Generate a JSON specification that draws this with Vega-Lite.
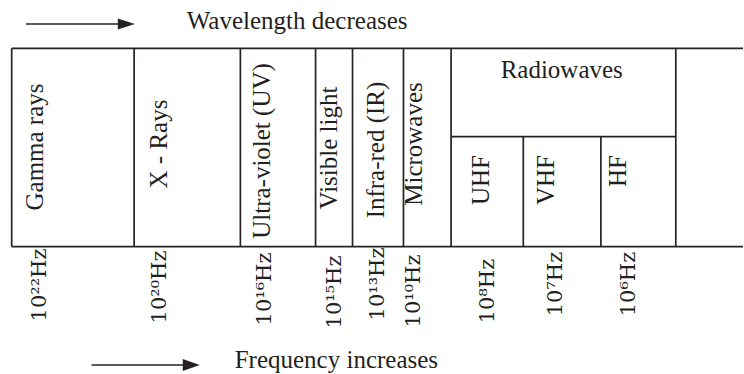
{
  "$schema": "https://vega.github.io/schema/vega-lite/v6.json",
  "autosize": {"type": "fit", "contains": "padding"},
  "width": 744,
  "height": 374,
  "padding": 0,
  "background": "white",
  "config": {"view": {"stroke": null}},
  "datasets": {
    "lines": [
      {"x": 11.7, "x2": 744, "y": 48.3, "y2": 48.3},
      {"x": 11.7, "x2": 744, "y": 246.7, "y2": 246.7},
      {"x": 451.7, "x2": 676.7, "y": 136.7, "y2": 136.7},
      {"x": 11.7, "x2": 11.7, "y": 48.3, "y2": 246.7},
      {"x": 134.3, "x2": 134.3, "y": 48.3, "y2": 246.7},
      {"x": 240.7, "x2": 240.7, "y": 48.3, "y2": 246.7},
      {"x": 316, "x2": 316, "y": 48.3, "y2": 246.7},
      {"x": 353, "x2": 353, "y": 48.3, "y2": 246.7},
      {"x": 404, "x2": 404, "y": 48.3, "y2": 246.7},
      {"x": 451.7, "x2": 451.7, "y": 48.3, "y2": 246.7},
      {"x": 524, "x2": 524, "y": 136.7, "y2": 246.7},
      {"x": 601.7, "x2": 601.7, "y": 136.7, "y2": 246.7},
      {"x": 676.7, "x2": 676.7, "y": 48.3, "y2": 246.7},
      {"x": 26, "x2": 120, "y": 24, "y2": 24},
      {"x": 91.7, "x2": 185, "y": 365, "y2": 365}
    ],
    "heads": [
      {"arrow": "top", "x": 118, "y": 18.5, "y2": 29.5},
      {"arrow": "top", "x": 135, "y": 24, "y2": 24},
      {"arrow": "bottom", "x": 183, "y": 359, "y2": 371},
      {"arrow": "bottom", "x": 200, "y": 365, "y2": 365}
    ],
    "labels": [
      {"group": "cell", "label": "Gamma rays", "x": 35, "y": 147},
      {"group": "cell", "label": "X - Rays", "x": 159, "y": 144},
      {"group": "cell", "label": "Ultra-violet (UV)", "x": 262, "y": 151},
      {"group": "cell", "label": "Visible light", "x": 329, "y": 148},
      {"group": "cell", "label": "Infra-red (IR)", "x": 377, "y": 150},
      {"group": "cell", "label": "Microwaves", "x": 415, "y": 144},
      {"group": "band", "label": "UHF", "x": 482, "y": 155},
      {"group": "band", "label": "VHF", "x": 547, "y": 155},
      {"group": "band", "label": "HF", "x": 619, "y": 155},
      {"group": "freq", "label": "10²²Hz", "x": 40, "y": 285},
      {"group": "freq", "label": "10²⁰Hz", "x": 160, "y": 287},
      {"group": "freq", "label": "10¹⁶Hz", "x": 265, "y": 289},
      {"group": "freq", "label": "10¹⁵Hz", "x": 335, "y": 292},
      {"group": "freq", "label": "10¹³Hz", "x": 379, "y": 284},
      {"group": "freq", "label": "10¹⁰Hz", "x": 415, "y": 291},
      {"group": "freq", "label": "10⁸Hz", "x": 489, "y": 291},
      {"group": "freq", "label": "10⁷Hz", "x": 557, "y": 284},
      {"group": "freq", "label": "10⁶Hz", "x": 630, "y": 284},
      {"group": "head", "label": "Radiowaves", "x": 562.5, "y": 70},
      {"group": "title", "label": "Wavelength decreases", "x": 187, "y": 21},
      {"group": "title", "label": "Frequency increases", "x": 235, "y": 360}
    ]
  },
  "encoding": {
    "x": {"field": "x", "type": "quantitative", "scale": {"domain": [0, 744], "nice": false, "zero": false}, "axis": null},
    "y": {"field": "y", "type": "quantitative", "scale": {"domain": [0, 374], "nice": false, "zero": false, "reverse": true}, "axis": null}
  },
  "layer": [
    {
      "data": {"name": "lines"},
      "mark": {"type": "rule", "color": "#262223", "strokeWidth": 1.7},
      "encoding": {
        "x2": {"field": "x2"},
        "y2": {"field": "y2"}
      }
    },
    {
      "data": {"name": "heads"},
      "mark": {"type": "area", "color": "#262223", "opacity": 1, "orient": "vertical"},
      "encoding": {
        "y2": {"field": "y2"},
        "detail": {"field": "arrow", "type": "nominal"}
      }
    },
    {
      "data": {"name": "labels"},
      "transform": [{"filter": "datum.group === 'cell'"}],
      "mark": {"type": "text", "angle": 270, "align": "center", "baseline": "middle", "font": "Times New Roman, Liberation Serif, serif", "fontSize": 25, "color": "#231f20"},
      "encoding": {"text": {"field": "label"}}
    },
    {
      "data": {"name": "labels"},
      "transform": [{"filter": "datum.group === 'freq'"}],
      "mark": {"type": "text", "angle": 270, "align": "center", "baseline": "middle", "font": "DejaVu Serif, serif", "fontSize": 21, "color": "#231f20"},
      "encoding": {"text": {"field": "label"}}
    },
    {
      "data": {"name": "labels"},
      "transform": [{"filter": "datum.group === 'band'"}],
      "mark": {"type": "text", "angle": 270, "align": "right", "baseline": "middle", "font": "Times New Roman, Liberation Serif, serif", "fontSize": 25, "color": "#231f20"},
      "encoding": {"text": {"field": "label"}}
    },
    {
      "data": {"name": "labels"},
      "transform": [{"filter": "datum.group === 'head'"}],
      "mark": {"type": "text", "align": "center", "baseline": "middle", "font": "Times New Roman, Liberation Serif, serif", "fontSize": 25, "color": "#231f20"},
      "encoding": {"text": {"field": "label"}}
    },
    {
      "data": {"name": "labels"},
      "transform": [{"filter": "datum.group === 'title'"}],
      "mark": {"type": "text", "align": "left", "baseline": "middle", "font": "Times New Roman, Liberation Serif, serif", "fontSize": 25, "color": "#231f20"},
      "encoding": {"text": {"field": "label"}}
    }
  ]
}
